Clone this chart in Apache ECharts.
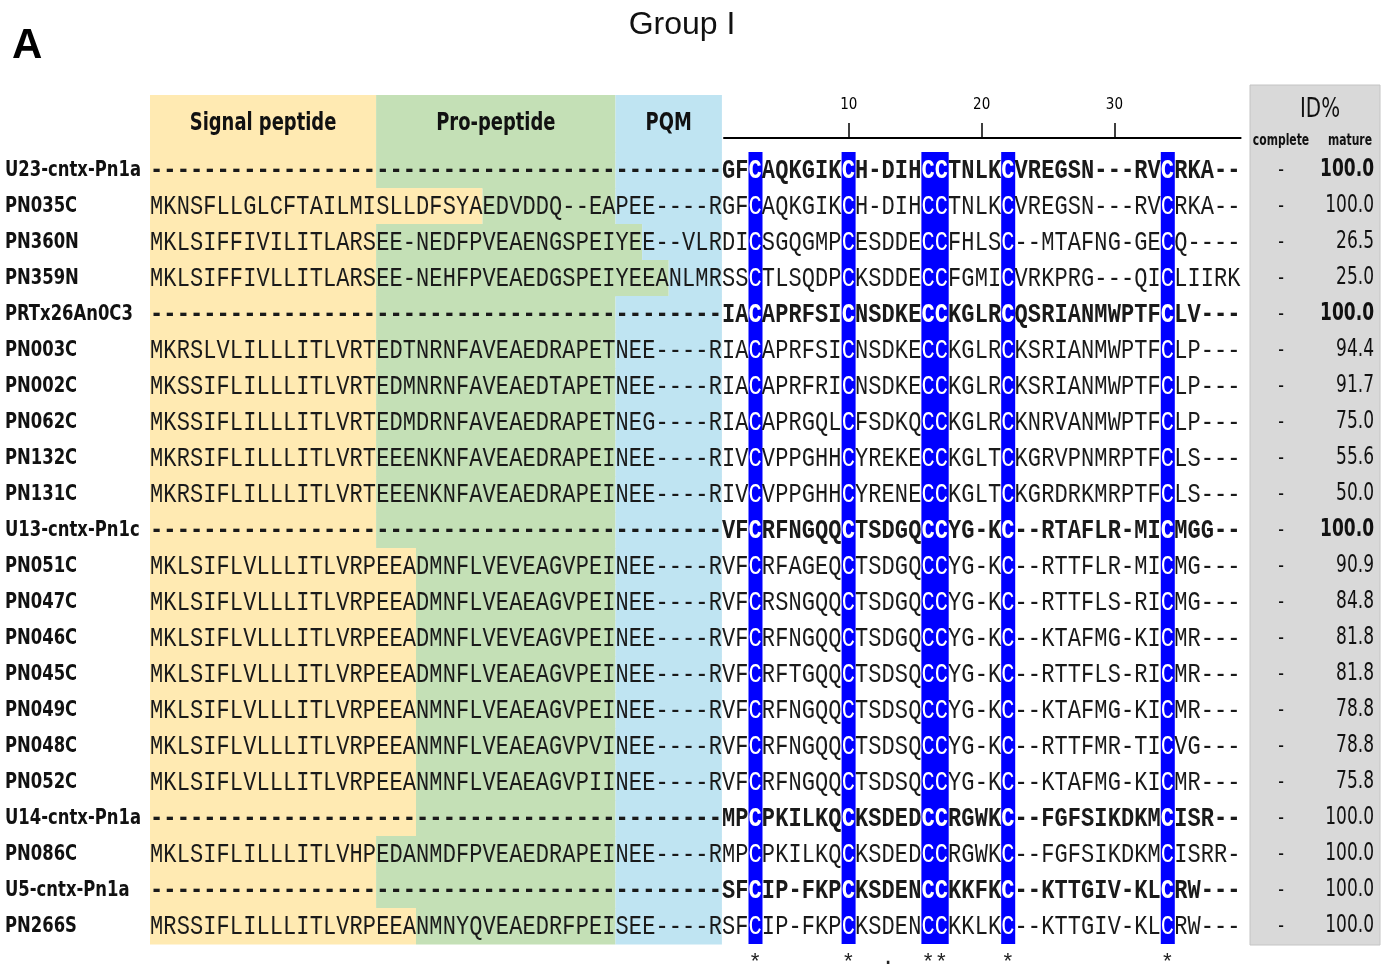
<!DOCTYPE html>
<html>
<head>
<meta charset="utf-8">
<script src="https://cdn.jsdelivr.net/npm/echarts@6/dist/echarts.min.js"></script>
<style>
  html, body { margin: 0; padding: 0; background: #fff; }
  #chart { width: 1389px; height: 966px; }
</style>
</head>
<body>
<div id="chart"></div>
<script>
// alignment rows
const rowNames = [
  'U23-cntx-Pn1a', 'PN035C', 'PN360N', 'PN359N', 'PRTx26An0C3', 'PN003C', 'PN002C', 'PN062C',
  'PN132C', 'PN131C', 'U13-cntx-Pn1c', 'PN051C', 'PN047C', 'PN046C', 'PN045C', 'PN049C',
  'PN048C', 'PN052C', 'U14-cntx-Pn1a', 'PN086C', 'U5-cntx-Pn1a', 'PN266S'
];
const referenceRows = ['U23-cntx-Pn1a', 'PRTx26An0C3', 'U13-cntx-Pn1c', 'U14-cntx-Pn1a', 'U5-cntx-Pn1a'];
const noPrepro = '-'.repeat(43);
const sequences = [
  noPrepro + 'GFCAQKGIKCH-DIHCCTNLKCVREGSN---RVCRKA--',
  'MKNSFLLGLCFTAILMISLLDFSYAEDVDDQ--EAPEE----RGFCAQKGIKCH-DIHCCTNLKCVREGSN---RVCRKA--',
  'MKLSIFFIVILITLARSEE-NEDFPVEAENGSPEIYEE--VLRDICSGQGMPCESDDECCFHLSC--MTAFNG-GECQ----',
  'MKLSIFFIVLLITLARSEE-NEHFPVEAEDGSPEIYEEANLMRSSCTLSQDPCKSDDECCFGMICVRKPRG---QICLIIRK',
  noPrepro + 'IACAPRFSICNSDKECCKGLRCQSRIANMWPTFCLV---',
  'MKRSLVLILLLITLVRTEDTNRNFAVEAEDRAPETNEE----RIACAPRFSICNSDKECCKGLRCKSRIANMWPTFCLP---',
  'MKSSIFLILLLITLVRTEDMNRNFAVEAEDTAPETNEE----RIACAPRFRICNSDKECCKGLRCKSRIANMWPTFCLP---',
  'MKSSIFLILLLITLVRTEDMDRNFAVEAEDRAPETNEG----RIACAPRGQLCFSDKQCCKGLRCKNRVANMWPTFCLP---',
  'MKRSIFLILLLITLVRTEEENKNFAVEAEDRAPEINEE----RIVCVPPGHHCYREKECCKGLTCKGRVPNMRPTFCLS---',
  'MKRSIFLILLLITLVRTEEENKNFAVEAEDRAPEINEE----RIVCVPPGHHCYRENECCKGLTCKGRDRKMRPTFCLS---',
  noPrepro + 'VFCRFNGQQCTSDGQCCYG-KC--RTAFLR-MICMGG--',
  'MKLSIFLVLLLITLVRPEEADMNFLVEVEAGVPEINEE----RVFCRFAGEQCTSDGQCCYG-KC--RTTFLR-MICMG---',
  'MKLSIFLVLLLITLVRPEEADMNFLVEAEAGVPEINEE----RVFCRSNGQQCTSDGQCCYG-KC--RTTFLS-RICMG---',
  'MKLSIFLVLLLITLVRPEEADMNFLVEVEAGVPEINEE----RVFCRFNGQQCTSDGQCCYG-KC--KTAFMG-KICMR---',
  'MKLSIFLVLLLITLVRPEEADMNFLVEAEAGVPEINEE----RVFCRFTGQQCTSDSQCCYG-KC--RTTFLS-RICMR---',
  'MKLSIFLVLLLITLVRPEEANMNFLVEAEAGVPEINEE----RVFCRFNGQQCTSDSQCCYG-KC--KTAFMG-KICMR---',
  'MKLSIFLVLLLITLVRPEEANMNFLVEAEAGVPVINEE----RVFCRFNGQQCTSDSQCCYG-KC--RTTFMR-TICVG---',
  'MKLSIFLVLLLITLVRPEEANMNFLVEAEAGVPIINEE----RVFCRFNGQQCTSDSQCCYG-KC--KTAFMG-KICMR---',
  noPrepro + 'MPCPKILKQCKSDEDCCRGWKC--FGFSIKDKMCISR--',
  'MKLSIFLILLLITLVHPEDANMDFPVEAEDRAPEINEE----RMPCPKILKQCKSDEDCCRGWKC--FGFSIKDKMCISRR-',
  noPrepro + 'SFCIP-FKPCKSDENCCKKFKC--KTTGIV-KLCRW---',
  'MRSSIFLILLLITLVRPEEANMNYQVEAEDRFPEISEE----RSFCIP-FKPCKSDENCCKKLKC--KTTGIV-KLCRW---'
];

// region ends (column index) per row: signal peptide / pro-peptide / PQM
const signalEnd = [17, 25, 17, 17, 17, 17, 17, 17, 17, 17, 17, 20, 20, 20, 20, 20, 20, 20, 20, 17, 17, 20];
const propepEnd = [35, 35, 37, 39, 35, 35, 35, 35, 35, 35, 35, 35, 35, 35, 35, 35, 35, 35, 35, 35, 35, 35];
const pqmEnd    = [43, 43, 43, 43, 43, 43, 43, 43, 43, 43, 43, 43, 43, 43, 43, 43, 43, 43, 43, 43, 43, 43];
const regionNames = ['Signal peptide', 'Pro-peptide', 'PQM'];

const cysColumns = [45, 52, 58, 59, 64, 76];
const consensusCols = [45, 52, 55, 58, 59, 64, 76];
const consensusMarks = ['*', '*', '.', '*', '*', '*', '*'];
const matureStart = 43;
const rulerTicks = [10, 20, 30];

const idComplete = ['-', '-', '-', '-', '-', '-', '-', '-', '-', '-', '-', '-', '-', '-', '-', '-', '-', '-', '-', '-', '-', '-'];
const idMature = ['100.0', '100.0', '26.5', '25.0', '100.0', '94.4', '91.7', '75.0', '55.6', '50.0', '100.0',
  '90.9', '84.8', '81.8', '81.8', '78.8', '78.8', '75.8', '100.0', '100.0', '100.0', '100.0'];
const idBoldRows = ['U23-cntx-Pn1a', 'PRTx26An0C3', 'U13-cntx-Pn1c'];

const CELL = 13.3;
const NCOL = 82;
const ROW_H = 36;
const HEADER_TOP = 95;
const SANS = '"DejaVu Sans Condensed", sans-serif';
const MONO = '"Liberation Mono", monospace';
const regionColors = ['#ffeab2', '#c4e0b6', '#bfe4f2'];

const regionData = [];
rowNames.forEach((n, r) => {
  regionData.push([0, signalEnd[r], r, 0]);
  regionData.push([signalEnd[r], propepEnd[r], r, 1]);
  regionData.push([propepEnd[r], pqmEnd[r], r, 2]);
});
const headerData = [[0, signalEnd[0], 0], [signalEnd[0], propepEnd[0], 1], [propepEnd[0], pqmEnd[0], 2]];

const letterData = [];
sequences.forEach((seq, r) => {
  for (let c = 0; c < seq.length; c++) letterData.push([c, r]);
});
const rowData = rowNames.map((n, r) => [0, r]);

function narrowText(x, y, text, font, align, sx, fill) {
  return { type: 'text', x: x, y: y, scaleX: sx,
    style: { text: text, x: 0, y: 0, align: align, verticalAlign: 'middle', font: font, fill: fill || '#111' } };
}

const chart = echarts.init(document.getElementById('chart'));

chart.setOption({
  animation: false,
  backgroundColor: '#fff',
  grid: [
    { left: 150, top: 152, width: NCOL * CELL, height: rowNames.length * ROW_H, outerBoundsMode: 'none', containLabel: false },
    { left: 724, top: 137, width: 150 + NCOL * CELL - 724, height: 1, outerBoundsMode: 'none', containLabel: false }
  ],
  xAxis: [
    {
      type: 'value', gridIndex: 0, min: 0, max: NCOL,
      splitLine: { show: false }, axisLine: { show: false }, axisTick: { show: false },
      axisLabel: {
        customValues: consensusCols.map(c => c + 0.5),
        // clustal '.' drawn as a raised dot, as in the figure
        formatter: v => {
          const m = consensusMarks[consensusCols.indexOf(v - 0.5)] || '';
          return m === '.' ? '·' : m;
        },
        margin: 8, fontFamily: MONO, fontSize: 22, color: '#222'
      }
    },
    {
      type: 'value', gridIndex: 1, position: 'top', min: 43.1, max: NCOL,
      splitLine: { show: false },
      axisLine: { lineStyle: { color: '#000', width: 2 } },
      axisTick: { customValues: rulerTicks.map(t => matureStart + t - 0.5), length: 15, lineStyle: { color: '#000', width: 1.5 } },
      axisLabel: {
        customValues: rulerTicks.map(t => matureStart + t - 0.5),
        formatter: v => String(Math.round(v - matureStart + 0.5)),
        margin: 24, fontFamily: SANS, fontSize: 15, color: '#000'
      }
    }
  ],
  yAxis: [
    {
      type: 'category', gridIndex: 0, data: rowNames, inverse: true, show: false
    },
    {
      type: 'value', gridIndex: 1, show: false
    }
  ],
  graphic: [
    { type: 'rect', z: -1, shape: { x: 1250, y: 85, width: 130, height: 860 }, style: { fill: '#d9d9d9', stroke: '#c4c4c4', lineWidth: 1 } },
    narrowText(1320, 110, 'ID%', '26px ' + SANS, 'center', 0.85),
    narrowText(1281, 141, 'complete', 'bold 15px ' + SANS, 'center', 0.8),
    narrowText(1350, 141, 'mature', 'bold 15px ' + SANS, 'center', 0.8),
    { type: 'text', x: 682, y: 25, style: { text: 'Group I', font: '32px "Liberation Sans", sans-serif', fill: '#111', align: 'center', verticalAlign: 'middle' } },
    { type: 'text', x: 12, y: 46, style: { text: 'A', font: 'bold 42px "Liberation Sans", sans-serif', fill: '#000', align: 'left', verticalAlign: 'middle' } }
  ],
  series: [
    {
      type: 'custom', name: 'regions', xAxisIndex: 0, yAxisIndex: 0, z: 1,
      data: regionData, encode: { x: [0, 1], y: 2 },
      renderItem(params, api) {
        const row = api.value(2);
        const p0 = api.coord([api.value(0), row]);
        const p1 = api.coord([api.value(1), row]);
        const h = api.size([0, 1])[1];
        return { type: 'rect', shape: { x: p0[0], y: p0[1] - h / 2, width: p1[0] - p0[0], height: h + 0.5 },
          style: { fill: regionColors[api.value(3)] } };
      }
    },
    {
      type: 'custom', name: 'header', xAxisIndex: 0, yAxisIndex: 0, z: 1,
      data: headerData.map(d => [d[0], d[1], 0, d[2]]), encode: { x: [0, 1], y: 2 },
      renderItem(params, api) {
        const p0 = api.coord([api.value(0), 0]);
        const p1 = api.coord([api.value(1), 0]);
        const h = api.size([0, 1])[1];
        const bottom = p0[1] - h / 2;
        const kind = api.value(3);
        return {
          type: 'group',
          children: [
            { type: 'rect', shape: { x: p0[0], y: HEADER_TOP, width: p1[0] - p0[0], height: bottom - HEADER_TOP + 0.5 },
              style: { fill: regionColors[kind] } },
            narrowText((p0[0] + p1[0]) / 2, (HEADER_TOP + bottom) / 2, regionNames[kind], 'bold 24px ' + SANS, 'center', 0.83)
          ]
        };
      }
    },
    {
      type: 'custom', name: 'cysteines', xAxisIndex: 0, yAxisIndex: 0, z: 2,
      data: cysColumns.map(c => [c, 0]), encode: { x: 0, y: 1 },
      renderItem(params, api) {
        const c = api.value(0);
        const h = api.size([0, 1])[1];
        const top = api.coord([c, 0]);
        const bot = api.coord([c + 1, rowNames.length - 1]);
        return { type: 'rect', shape: { x: top[0], y: top[1] - h / 2, width: bot[0] - top[0] + 0.7, height: bot[1] - top[1] + h },
          style: { fill: '#0000ff' } };
      }
    },
    {
      type: 'custom', name: 'residues', xAxisIndex: 0, yAxisIndex: 0, z: 3,
      data: letterData, encode: { x: 0, y: 1 },
      renderItem(params, api) {
        const c = api.value(0), r = api.value(1);
        const p = api.coord([c + 0.5, r]);
        const bold = referenceRows.includes(rowNames[r]);
        return {
          type: 'text', x: p[0], y: p[1] + 1, scaleY: 1.27,
          style: { text: sequences[r][c], x: 0, y: 0, align: 'center', verticalAlign: 'middle',
            font: (bold ? 'bold ' : '') + '22px ' + MONO,
            fill: cysColumns.includes(c) ? '#fff' : '#1a1a1a' }
        };
      }
    },
    {
      type: 'custom', name: 'rowLabels', xAxisIndex: 0, yAxisIndex: 0, z: 3,
      data: rowData, encode: { x: 0, y: 1 },
      renderItem(params, api) {
        const r = api.value(1);
        const p = api.coord([0, r]);
        const g = { type: 'group', children: [] };
        g.children.push(narrowText(p[0] - 145, p[1], rowNames[r], 'bold 22px ' + SANS, 'left', 0.83));
        g.children.push(narrowText(p[0] + 1131, p[1], idComplete[r], '22px ' + SANS, 'center', 0.8));
        g.children.push(narrowText(p[0] + 1224, p[1], idMature[r],
          (idBoldRows.includes(rowNames[r]) ? 'bold ' : '') + '24px ' + SANS, 'right', 0.79));
        return g;
      }
    }
  ]
});
</script>
</body>
</html>
